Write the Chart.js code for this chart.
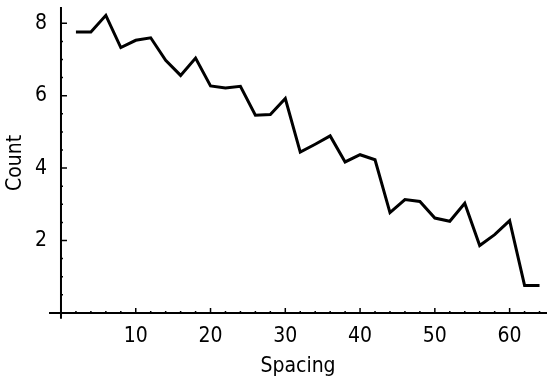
<!DOCTYPE html>
<html>
<head>
<meta charset="utf-8">
<script src="https://cdn.jsdelivr.net/npm/chart.js@4"></script>
<style>
  html, body { margin: 0; padding: 0; background: #fff; }
  #wrap { width: 547px; height: 376px; }
</style>
</head>
<body>
<div id="wrap"><canvas id="lineChart"></canvas></div>
<script>
    const spacing = [2, 4, 6, 8, 10, 12, 14, 16, 18, 20, 22, 24, 26, 28, 30, 32,
                     34, 36, 38, 40, 42, 44, 46, 48, 50, 52, 54, 56, 58, 60, 62, 64];
    const counts = [7.76, 7.76, 8.22, 7.33, 7.53, 7.60, 6.98, 6.56, 7.04, 6.27, 6.21, 6.26, 5.46, 5.48, 5.92, 4.44,
                    4.66, 4.89, 4.17, 4.37, 4.23, 2.77, 3.13, 3.08, 2.62, 2.53, 3.03, 1.86, 2.16, 2.55, 0.76, 0.76];
    const xTicks = [10, 20, 30, 40, 50, 60];
    const yTicks = [2, 4, 6, 8];

    const font = { family: "'DejaVu Sans Condensed', 'DejaVu Sans', sans-serif", size: 21 };

    // axes drawn through zero with inward tick marks, like the printed figure
    const axesPlugin = {
      id: 'axes',
      afterDraw(chart) {
        const { ctx, chartArea } = chart;
        const xs = chart.scales.x, ys = chart.scales.y;
        const x0 = xs.getPixelForValue(0), y0 = ys.getPixelForValue(0);
        ctx.save();
        ctx.strokeStyle = '#000';
        ctx.lineWidth = 2;
        ctx.beginPath();
        ctx.moveTo(chartArea.left, y0); ctx.lineTo(chartArea.right, y0);
        ctx.moveTo(x0, chartArea.top); ctx.lineTo(x0, chartArea.bottom);
        ctx.stroke();
        ctx.lineWidth = 1.5;
        ctx.beginPath();
        for (let v = 2; v <= 64; v += 2) {
          const px = xs.getPixelForValue(v);
          const len = v % 10 === 0 ? 5 : 2;
          ctx.moveTo(px, y0); ctx.lineTo(px, y0 - len);
        }
        for (let v = 0.5; v <= 8; v += 0.5) {
          const py = ys.getPixelForValue(v);
          const len = v % 2 === 0 ? 6 : 2;
          ctx.moveTo(x0, py); ctx.lineTo(x0 + len, py);
        }
        ctx.stroke();
        ctx.restore();
      }
    };

    new Chart(document.getElementById('lineChart'), {
      type: 'line',
      data: {
        datasets: [{
          data: spacing.map((s, i) => ({ x: s, y: counts[i] })),
          borderColor: '#000',
          borderWidth: 3,
          borderJoinStyle: 'miter',
          pointRadius: 0,
          tension: 0,
          fill: false
        }]
      },
      options: {
        responsive: true,
        maintainAspectRatio: false,
        animation: false,
        layout: { padding: { top: 7, right: 0, left: 0, bottom: 0 } },
        plugins: {
          legend: { display: false },
          tooltip: { enabled: false }
        },
        scales: {
          x: {
            type: 'linear',
            min: -1.6,
            max: 65,
            afterBuildTicks: s => { s.ticks = xTicks.map(v => ({ value: v })); },
            afterFit: s => { s.paddingRight = 0; },
            grid: { display: false, drawTicks: false },
            border: { display: false },
            ticks: { color: '#000', font: font, padding: 5, maxRotation: 0 },
            title: { display: true, text: 'Spacing', color: '#000', font: font, padding: { top: 0.5, bottom: -3.6 } }
          },
          y: {
            type: 'linear',
            min: -0.16,
            max: 8.45,
            afterBuildTicks: s => { s.ticks = yTicks.map(v => ({ value: v })); },
            afterFit: s => { s.paddingTop = 0; },
            grid: { display: false, drawTicks: false },
            border: { display: false },
            ticks: { color: '#000', font: font, padding: 2 },
            title: { display: true, text: 'Count', color: '#000', font: font, padding: { top: 3.2, bottom: 4.6 } }
          }
        }
      },
      plugins: [axesPlugin]
    });
</script>
</body>
</html>
